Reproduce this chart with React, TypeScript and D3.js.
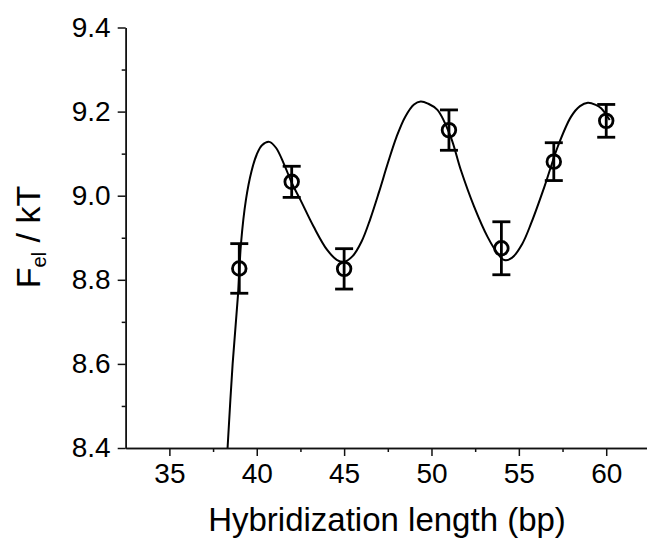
import React, { useEffect, useRef } from 'react';
import * as d3 from 'd3';

// chart box, matches the 647x542 picture
const width = 647;
const height = 542;
const margin = { top: 27.5, right: 0, bottom: 94, left: 125.7 };

// measured points (bp, F_el/kT, error)
const lengths = [39, 42, 45, 51, 54, 57, 60];
const energies = [8.827, 9.033, 8.826, 9.156, 8.875, 9.081, 9.178];
const errors = [0.059, 0.037, 0.048, 0.048, 0.063, 0.045, 0.039];

// fitted curve
const fitX = [
  38.33, 38.62, 38.93, 39.1, 39.38, 39.7, 40.0, 40.3, 40.72, 41.1, 41.54, 42.02, 42.5, 43.26,
  44.03, 44.6, 45.0, 45.5, 46.0, 46.5, 47.0, 47.5, 48.0, 48.5, 49.0, 49.38, 49.8, 50.34, 51.1,
  51.68, 52.44, 53.21, 53.78, 54.17, 54.6, 55.2, 55.7, 56.46, 57.23, 57.99, 58.5, 58.95, 59.4,
  59.71, 60.2
];
const fitY = [
  8.4, 8.6, 8.766, 8.887, 8.99, 9.058, 9.098, 9.12, 9.128, 9.114, 9.077, 9.029, 8.99, 8.926,
  8.871, 8.847, 8.843, 8.857, 8.891, 8.945, 9.009, 9.077, 9.14, 9.188, 9.217, 9.224, 9.219,
  9.204, 9.14, 9.061, 8.974, 8.902, 8.863, 8.847, 8.852, 8.886, 8.934, 9.021, 9.117, 9.188,
  9.213, 9.221, 9.216, 9.208, 9.18
];

// axis ticks
const xTicks = [35, 40, 45, 50, 55, 60];
const xMinor = [37.5, 42.5, 47.5, 52.5, 57.5, 62.5];
const yTicks = [8.4, 8.6, 8.8, 9.0, 9.2, 9.4];
const yMinor = [8.5, 8.7, 8.9, 9.1, 9.3];

const font = 'Arial, "Liberation Sans", sans-serif';

const xScale = d3.scaleLinear().domain([32.5, 62.5]).range([margin.left, width - margin.right + 2.9]);
const yScale = d3.scaleLinear().domain([8.4, 9.4]).range([height - margin.bottom, margin.top]);

export default function App() {
  const xRef = useRef<SVGGElement>(null);
  const yRef = useRef<SVGGElement>(null);

  useEffect(() => {
    const gx = d3.select(xRef.current);
    gx.selectAll('*').remove();
    gx.append('g')
      .call(d3.axisBottom(xScale).tickValues(xMinor).tickSize(4).tickFormat(() => '').tickSizeOuter(0));
    gx.append('g')
      .call(d3.axisBottom(xScale).tickValues(xTicks).tickSize(8).tickPadding(7).tickFormat(d3.format('d')).tickSizeOuter(0));

    const gy = d3.select(yRef.current);
    gy.selectAll('*').remove();
    gy.append('g')
      .call(d3.axisLeft(yScale).tickValues(yMinor).tickSize(4).tickFormat(() => '').tickSizeOuter(0));
    gy.append('g')
      .call(d3.axisLeft(yScale).tickValues(yTicks).tickSize(8).tickPadding(7).tickFormat(d3.format('.1f')).tickSizeOuter(0));

    [gx, gy].forEach(g => {
      g.selectAll('path.domain').attr('stroke', '#111').attr('stroke-width', 1.5);
      g.selectAll('line').attr('stroke', '#111').attr('stroke-width', 1.5);
      g.selectAll('text').attr('font-family', font).attr('font-size', 28).attr('fill', '#000');
    });
  }, []);

  const line = d3.line<number>()
    .x((d, i) => xScale(fitX[i]))
    .y(d => yScale(d))
    .curve(d3.curveCatmullRom.alpha(0.5));

  return (
    <svg width={width} height={height} style={{ position: 'absolute', left: 0, top: 0, background: '#fff' }}>
      <path d={line(fitY) || ''} fill="none" stroke="#000" strokeWidth={2} />

      {lengths.map((x, i) => {
        const cx = xScale(x);
        const top = yScale(energies[i] + errors[i]);
        const bot = yScale(energies[i] - errors[i]);
        return (
          <g key={x} stroke="#000" strokeWidth={2.8} fill="none">
            <line x1={cx} x2={cx} y1={top} y2={bot} />
            <line x1={cx - 9} x2={cx + 9} y1={top} y2={top} />
            <line x1={cx - 9} x2={cx + 9} y1={bot} y2={bot} />
            <circle cx={cx} cy={yScale(energies[i])} r={6.8} />
          </g>
        );
      })}

      <g ref={xRef} transform={`translate(0,${height - margin.bottom})`} />
      <g ref={yRef} transform={`translate(${margin.left},0)`} />

      <text x={387} y={531} textAnchor="middle" fontFamily={font} fontSize={33} fill="#000">
        Hybridization length (bp)
      </text>
      <text transform="translate(40,237) rotate(-90)" textAnchor="middle" fontFamily={font} fontSize={34} fill="#000">
        F<tspan fontSize={20} dy={6}>el</tspan>
        <tspan dy={-6}> / kT</tspan>
      </text>
    </svg>
  );
}
